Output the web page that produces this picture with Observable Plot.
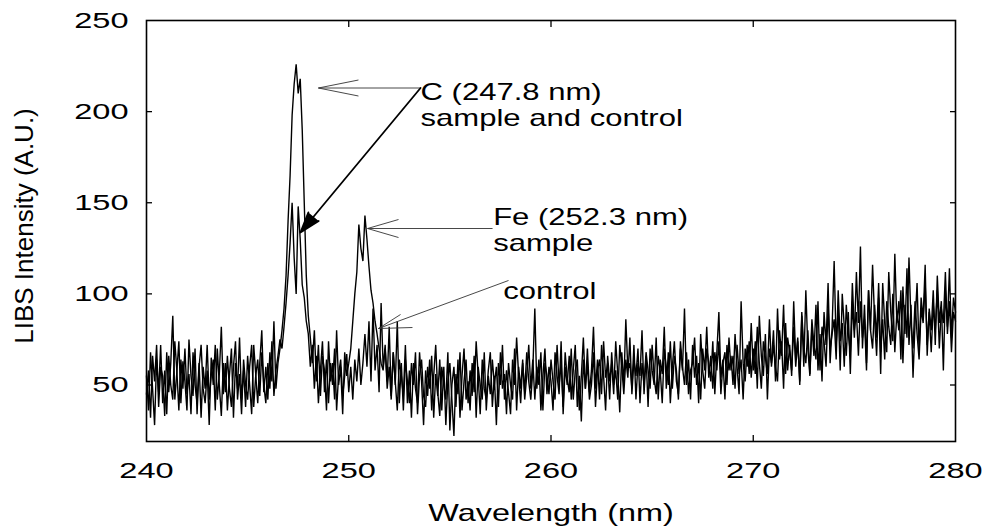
<!DOCTYPE html>
<html>
<head>
<meta charset="utf-8">
<script src="https://cdn.jsdelivr.net/npm/d3@7"></script>
<script src="https://cdn.jsdelivr.net/npm/@observablehq/plot@0.6"></script>
<style>
  html, body { margin: 0; padding: 0; background: #fff; }
  #chart { width: 986px; height: 529px; }
</style>
</head>
<body>
<div id="chart"></div>
<script>
const wavelengthStart = 240;
const wavelengthStep = 0.1;

// Sample spectrum (C peak + Fe peak), one row per nm
const sampleIntensity = [
  45, 58, 32, 66, 52, 72, 38, 60, 55, 33,
  68, 46, 62, 88, 42, 57, 74, 40, 63, 52,
  36, 75, 55, 44, 70, 34, 60, 72, 48, 40,
  58, 28, 65, 50, 72, 42, 56, 82, 45, 62,
  36, 55, 70, 32, 62, 48, 76, 42, 58, 38,
  66, 50, 34, 72, 56, 40, 62, 80, 46, 60,
  42, 68, 52, 85, 48, 62, 70, 80, 92, 110,
  140, 165, 198, 215, 226, 210, 218, 190, 150, 110,
  88, 76, 62, 80, 52, 72, 44, 66, 58, 36,
  74, 52, 62, 42, 80, 50, 60, 34, 68, 55,
  62, 70, 85, 100, 112, 138, 125, 118, 143, 130,
  115, 102, 95, 85, 78, 70, 62, 58, 72, 48,
  60, 42, 68, 52, 36, 64, 55, 44, 72, 40,
  58, 32, 62, 48, 40, 68, 52, 28, 58, 44,
  64, 36, 55, 72, 46, 33, 60, 50, 42, 68,
  25, 50, 60, 38, 64, 32, 55, 70, 42, 52,
  36, 62, 46, 74, 55, 34, 64, 48, 42, 58,
  68, 38, 55, 28, 62, 50, 72, 42, 58, 46,
  34, 64, 50, 76, 55, 40, 62, 46, 68, 52,
  42, 58, 92, 48, 64, 36, 55, 70, 45, 60,
  52, 36, 68, 55, 45, 74, 34, 60, 50, 66,
  42, 58, 72, 38, 55, 30, 64, 48, 70, 46,
  58, 82, 48, 64, 42, 72, 55, 36, 66, 52,
  62, 45, 74, 56, 35, 68, 50, 86, 58, 62,
  48, 72, 42, 62, 55, 80, 45, 66, 38, 70,
  58, 50, 76, 42, 64, 56, 82, 48, 68, 40,
  60, 74, 52, 45, 70, 58, 92, 50, 64, 42,
  72, 54, 66, 40, 78, 58, 48, 70, 62, 52,
  74, 45, 68, 90, 54, 64, 42, 72, 58, 66,
  50, 78, 60, 45, 96, 62, 52, 72, 56, 84,
  58, 74, 48, 88, 66, 55, 78, 42, 70, 62,
  80, 52, 92, 64, 74, 48, 84, 58, 72, 55,
  96, 64, 76, 50, 88, 60, 102, 70, 55, 82,
  66, 94, 58, 78, 52, 90, 72, 106, 62, 82,
  118, 72, 92, 58, 100, 82, 66, 90, 56, 96,
  76, 112, 84, 126, 70, 94, 62, 102, 80, 116,
  86, 66, 98, 56, 106, 84, 68, 112, 90, 74,
  122, 84, 96, 64, 104, 78, 114, 72, 94, 54,
  84, 106, 68, 98, 86, 116, 66, 92, 80, 102,
  72, 110, 84, 96, 58, 102, 82, 114, 76, 98,
  90
];

// Control spectrum (C peak only), one row per nm
const controlIntensity = [
  55, 36, 68, 48, 28, 64, 46, 72, 40, 58,
  34, 66, 50, 42, 74, 58, 36, 64, 48, 70,
  45, 56, 34, 68, 50, 40, 62, 32, 60, 48,
  72, 42, 55, 64, 36, 70, 50, 33, 62, 46,
  66, 48, 38, 60, 74, 42, 56, 34, 64, 50,
  42, 60, 72, 38, 55, 64, 44, 68, 50, 40,
  62, 48, 74, 44, 58, 66, 75, 70, 82, 95,
  110, 128, 150, 120, 100, 148, 130, 105, 98, 85,
  78, 60, 72, 48, 66, 40, 58, 74, 46, 64,
  40, 62, 50, 70, 36, 56, 64, 44, 55, 67,
  46, 60, 42, 64, 52, 70, 50, 62, 78, 60,
  85, 52, 92, 58, 72, 46, 95, 60, 70, 52,
  82, 44, 68, 50, 85, 40, 62, 36, 64, 52,
  40, 62, 50, 68, 34, 55, 64, 44, 38, 60,
  48, 66, 32, 56, 44, 64, 36, 60, 28, 52,
  62, 42, 22, 56, 45, 68, 36, 52, 64, 40,
  58, 44, 66, 32, 60, 50, 42, 68, 36, 55,
  45, 64, 50, 60, 38, 68, 48, 56, 34, 62,
  50, 42, 70, 36, 60, 48, 64, 42, 55, 72,
  48, 64, 42, 60, 50, 68, 36, 62, 55, 45,
  64, 52, 42, 72, 50, 62, 38, 68, 54, 46,
  70, 42, 58, 64, 36, 55, 76, 48, 62, 42,
  50, 68, 38, 58, 64, 45, 74, 54, 62, 42,
  68, 50, 58, 42, 72, 60, 45, 64, 54, 76,
  45, 64, 55, 70, 40, 62, 50, 68, 58, 48,
  72, 54, 45, 66, 58, 40, 70, 60, 50, 74,
  48, 66, 58, 42, 74, 60, 50, 68, 45, 58,
  62, 76, 50, 62, 42, 70, 58, 82, 54, 66,
  48, 68, 58, 74, 45, 62, 68, 50, 76, 58,
  66, 48, 72, 56, 64, 42, 70, 60, 74, 54,
  70, 56, 82, 62, 48, 74, 65, 56, 86, 60,
  72, 60, 52, 80, 66, 94, 56, 76, 68, 58,
  82, 60, 74, 52, 90, 70, 62, 80, 56, 86,
  72, 64, 96, 58, 82, 74, 60, 92, 70, 78,
  86, 64, 102, 74, 84, 60, 94, 78, 68, 106,
  80, 90, 66, 96, 76, 86, 58, 102, 80, 70,
  94, 76, 106, 68, 86, 64, 96, 82, 72, 100,
  68, 90, 80, 102, 62, 94, 76, 120, 84, 70,
  96, 78, 64, 92, 84, 106, 72, 90, 68, 94,
  80, 102, 70, 92, 84, 112, 78, 96, 68, 90,
  85
];

// Axis ticks
const xTicks = [240, 250, 260, 270, 280];
const xInnerTicks = [250, 260, 270];
const yTicks = [50, 100, 150, 200, 250];
const yInnerTicks = [50, 100, 150, 200];

// Annotation texts (anchored at top-left, data coordinates)
const noteTexts = ["C (247.8 nm)\nsample and control", "Fe (252.3 nm)\nsample", "control"];
const noteX = [253.55, 257.14, 257.64];
const noteY = [217.1, 148.5, 107.6];

// Annotation leader lines and open arrow barbs (data coordinates)
const leaderX1 = [253.55, 248.50, 248.50, 257.11, 250.93, 250.93, 257.90, 251.47, 251.47];
const leaderY1 = [212.96, 212.96, 212.96, 135.87, 135.87, 135.87, 107.34, 81.0, 81.0];
const leaderX2 = [248.50, 250.48, 250.48, 250.93, 252.46, 252.46, 251.47, 252.56, 253.15];
const leaderY2 = [212.96, 217.35, 208.57, 135.87, 140.81, 130.93, 81.0, 88.68, 81.55];

// Filled arrow from the C label to the control's C peak
const bigArrow = [{x1: 253.55, y1: 212.96, x2: 247.61, y2: 133.68}];

const spectra = [
  ...sampleIntensity.map((v, i) => ({wl: wavelengthStart + i * wavelengthStep, v, series: "sample"})),
  ...controlIntensity.map((v, i) => ({wl: wavelengthStart + i * wavelengthStep, v, series: "control"}))
];
const notes = noteTexts.map((t, i) => ({t, x: noteX[i], y: noteY[i]}));
const leaders = leaderX1.map((x1, i) => ({x1, y1: leaderY1[i], x2: leaderX2[i], y2: leaderY2[i]}));

const svg = Plot.plot({
  width: 986,
  height: 529,
  marginLeft: 146,
  marginRight: 31,
  marginTop: 20,
  marginBottom: 88,
  style: {fontFamily: "'Liberation Sans', Arial, sans-serif", fontSize: "22px", color: "black", background: "white"},
  x: {domain: [240, 280]},
  y: {domain: [19, 250]},
  marks: [
    Plot.line(spectra, {x: "wl", y: "v", z: "series", stroke: "black", strokeWidth: 1.4, strokeLinejoin: "miter"}),
    Plot.axisX({anchor: "bottom", ticks: xTicks, tickSize: 0, tickPadding: 21, fontSize: 22, label: null}),
    Plot.axisX({anchor: "bottom", ticks: xInnerTicks, tickSize: -6, tickFormat: () => "", label: null, strokeWidth: 1.3}),
    Plot.axisX({anchor: "top", ticks: xInnerTicks, tickSize: -6, tickFormat: () => "", label: null, strokeWidth: 1.3}),
    Plot.axisY({anchor: "left", ticks: yTicks, tickSize: 0, tickPadding: 18, fontSize: 22, label: null}),
    Plot.axisY({anchor: "left", ticks: yInnerTicks, tickSize: -6, tickFormat: () => "", label: null, strokeWidth: 1.3}),
    Plot.axisY({anchor: "right", ticks: yInnerTicks, tickSize: -6, tickFormat: () => "", label: null, strokeWidth: 1.3}),
    Plot.frame({stroke: "black", strokeWidth: 1.6}),
    Plot.link(leaders, {x1: "x1", y1: "y1", x2: "x2", y2: "y2", stroke: "#333", strokeWidth: 0.9}),
    Plot.arrow(bigArrow, {x1: "x1", y1: "y1", x2: "x2", y2: "y2", stroke: "black", fill: "black", strokeWidth: 1.8, headLength: 18, headAngle: 36}),
    Plot.text(notes, {x: "x", y: "y", text: "t", textAnchor: "start", lineAnchor: "top", fontSize: 23, lineHeight: 1.17, fill: "black"}),
    Plot.text(["Wavelength (nm)"], {frameAnchor: "bottom", textAnchor: "middle", lineAnchor: "middle", dy: 72, fontSize: 24, fill: "black"}),
    Plot.text(["LIBS Intensity (A.U.)"], {frameAnchor: "left", textAnchor: "middle", lineAnchor: "middle", rotate: -90, dx: -122, dy: -5, fontSize: 26, fill: "black", className: "ytitle"})
  ]
});

// The original typeface is horizontally stretched: widen the horizontal texts.
d3.select(svg).selectAll("text").each(function () {
  if (this.closest(".ytitle")) return;
  const sx = this.closest("[aria-label='text']") ? 1.35 : 1.48;
  let t = this.getAttribute("transform");
  if (!t) {
    const x = this.getAttribute("x") || 0, y = this.getAttribute("y") || 0;
    this.removeAttribute("x"); this.removeAttribute("y");
    t = `translate(${x},${y})`;
  }
  this.setAttribute("transform", `${t} scale(${sx},1)`);
});

document.getElementById("chart").appendChild(svg);
</script>
</body>
</html>
